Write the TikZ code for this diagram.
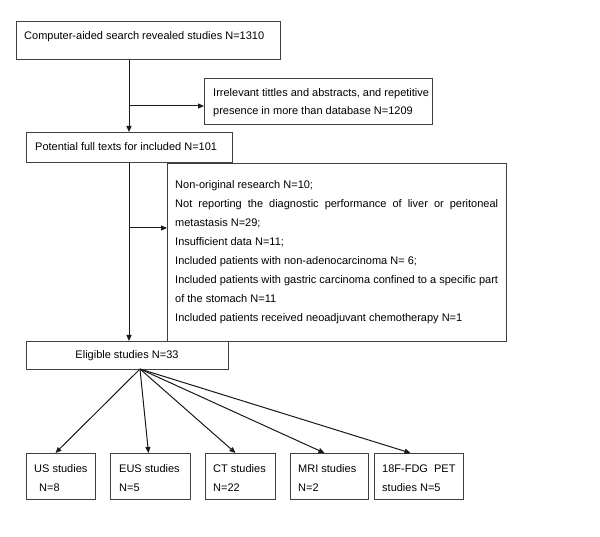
\documentclass[tikz,border=0pt]{standalone}
\usepackage{fontspec}
\setmainfont{Liberation Sans}
\usetikzlibrary{arrows.meta,calc}
\begin{document}
\begin{tikzpicture}[x=1pt,y=-1pt,
 box/.style={draw=black!75, line width=1pt, inner sep=0pt, anchor=north west},
 txt/.style={inner sep=0pt, anchor=base west, font=\fontsize{11}{13}\selectfont},
 arr/.style={line width=1pt, draw=black!90, -{Triangle[length=6pt,width=5pt]}}]
\useasboundingbox (0,0) rectangle (600,537);
% boxes
\node[box, minimum width=264pt, minimum height=38pt] (b1) at (16,21) {};
\node[box, minimum width=228pt, minimum height=46pt] (irr) at (204,78) {};
\node[box, minimum width=206pt, minimum height=30pt] (b2) at (26,132) {};
\node[box, minimum width=339pt, minimum height=178pt] (exc) at (167,163) {};
\node[box, minimum width=202pt, minimum height=28pt] (elig) at (26,341) {};
\node[box, minimum width=69pt, minimum height=46pt] (us) at (26,453) {};
\node[box, minimum width=80pt, minimum height=46pt] (eus) at (110,453) {};
\node[box, minimum width=70pt, minimum height=46pt] (ct) at (205,453) {};
\node[box, minimum width=78pt, minimum height=46pt] (mri) at (290,453) {};
\node[box, minimum width=89pt, minimum height=46pt] (pet) at (374,453) {};
% texts
\node[txt] (t1) at (24,40) {Computer-aided search revealed studies N=1310};
\node[txt] (ti1) at (213,97) {Irrelevant tittles and abstracts, and repetitive};
\node[txt] (ti2) at (213,115) {presence in more than database N=1209};
\node[txt] (t2) at (35,151) {Potential full texts for included N=101};
\node[txt] (e1) at (175,189) {Non-original research N=10;};
\node[txt] (e2) at (175,208) {\makebox[323pt][s]{Not reporting the diagnostic performance of liver or peritoneal}};
\node[txt] (e3) at (175,227) {metastasis N=29;};
\node[txt] (e4) at (175,246) {Insufficient data N=11;};
\node[txt] (e5) at (175,265) {Included patients with non-adenocarcinoma N= 6;};
\node[txt] (e6) at (175,284) {Included patients with gastric carcinoma confined to a specific part};
\node[txt] (e7) at (175,303) {of the stomach N=11};
\node[txt] (e8) at (175,322) {Included patients received neoadjuvant chemotherapy N=1};
\node[txt, anchor=base] (te) at (127,359) {Eligible studies N=33};
\node[txt] (u1) at (34,472) {US studies};
\node[txt] (u2) at (39,491) {N=8};
\node[txt] (eu1) at (119,472) {EUS studies};
\node[txt] (eu2) at (119,491) {N=5};
\node[txt] (c1) at (213,472) {CT studies};
\node[txt] (c2) at (213,491) {N=22};
\node[txt] (m1) at (298,472) {MRI studies};
\node[txt] (m2) at (298,491) {N=2};
\node[txt] (p1) at (382,472) {18F-FDG\ \ PET};
\node[txt] (p2) at (382,491) {studies N=5};
% connectors
\coordinate (m) at (129,0);
\coordinate (br1) at (129,106);
\coordinate (br2) at (129,228);
\draw[arr] (b1.south -| m) -- (b2.north -| m);
\draw[arr] (br1) -- (irr.west |- br1);
\draw[arr] (b2.south -| m) -- (elig.north -| m);
\draw[arr] (br2) -- (exc.west |- br2);
\coordinate (apex) at (140,369);
\draw[arr] (apex) -- ([xshift=-5.5pt]us.north);
\draw[arr] (apex) -- ([xshift=-2pt]eus.north);
\draw[arr] (apex) -- ([xshift=-5pt]ct.north);
\draw[arr] (apex) -- ([xshift=-5pt]mri.north);
\draw[arr] (apex) -- ([xshift=-8.5pt]pet.north);
\end{tikzpicture}
\end{document}
